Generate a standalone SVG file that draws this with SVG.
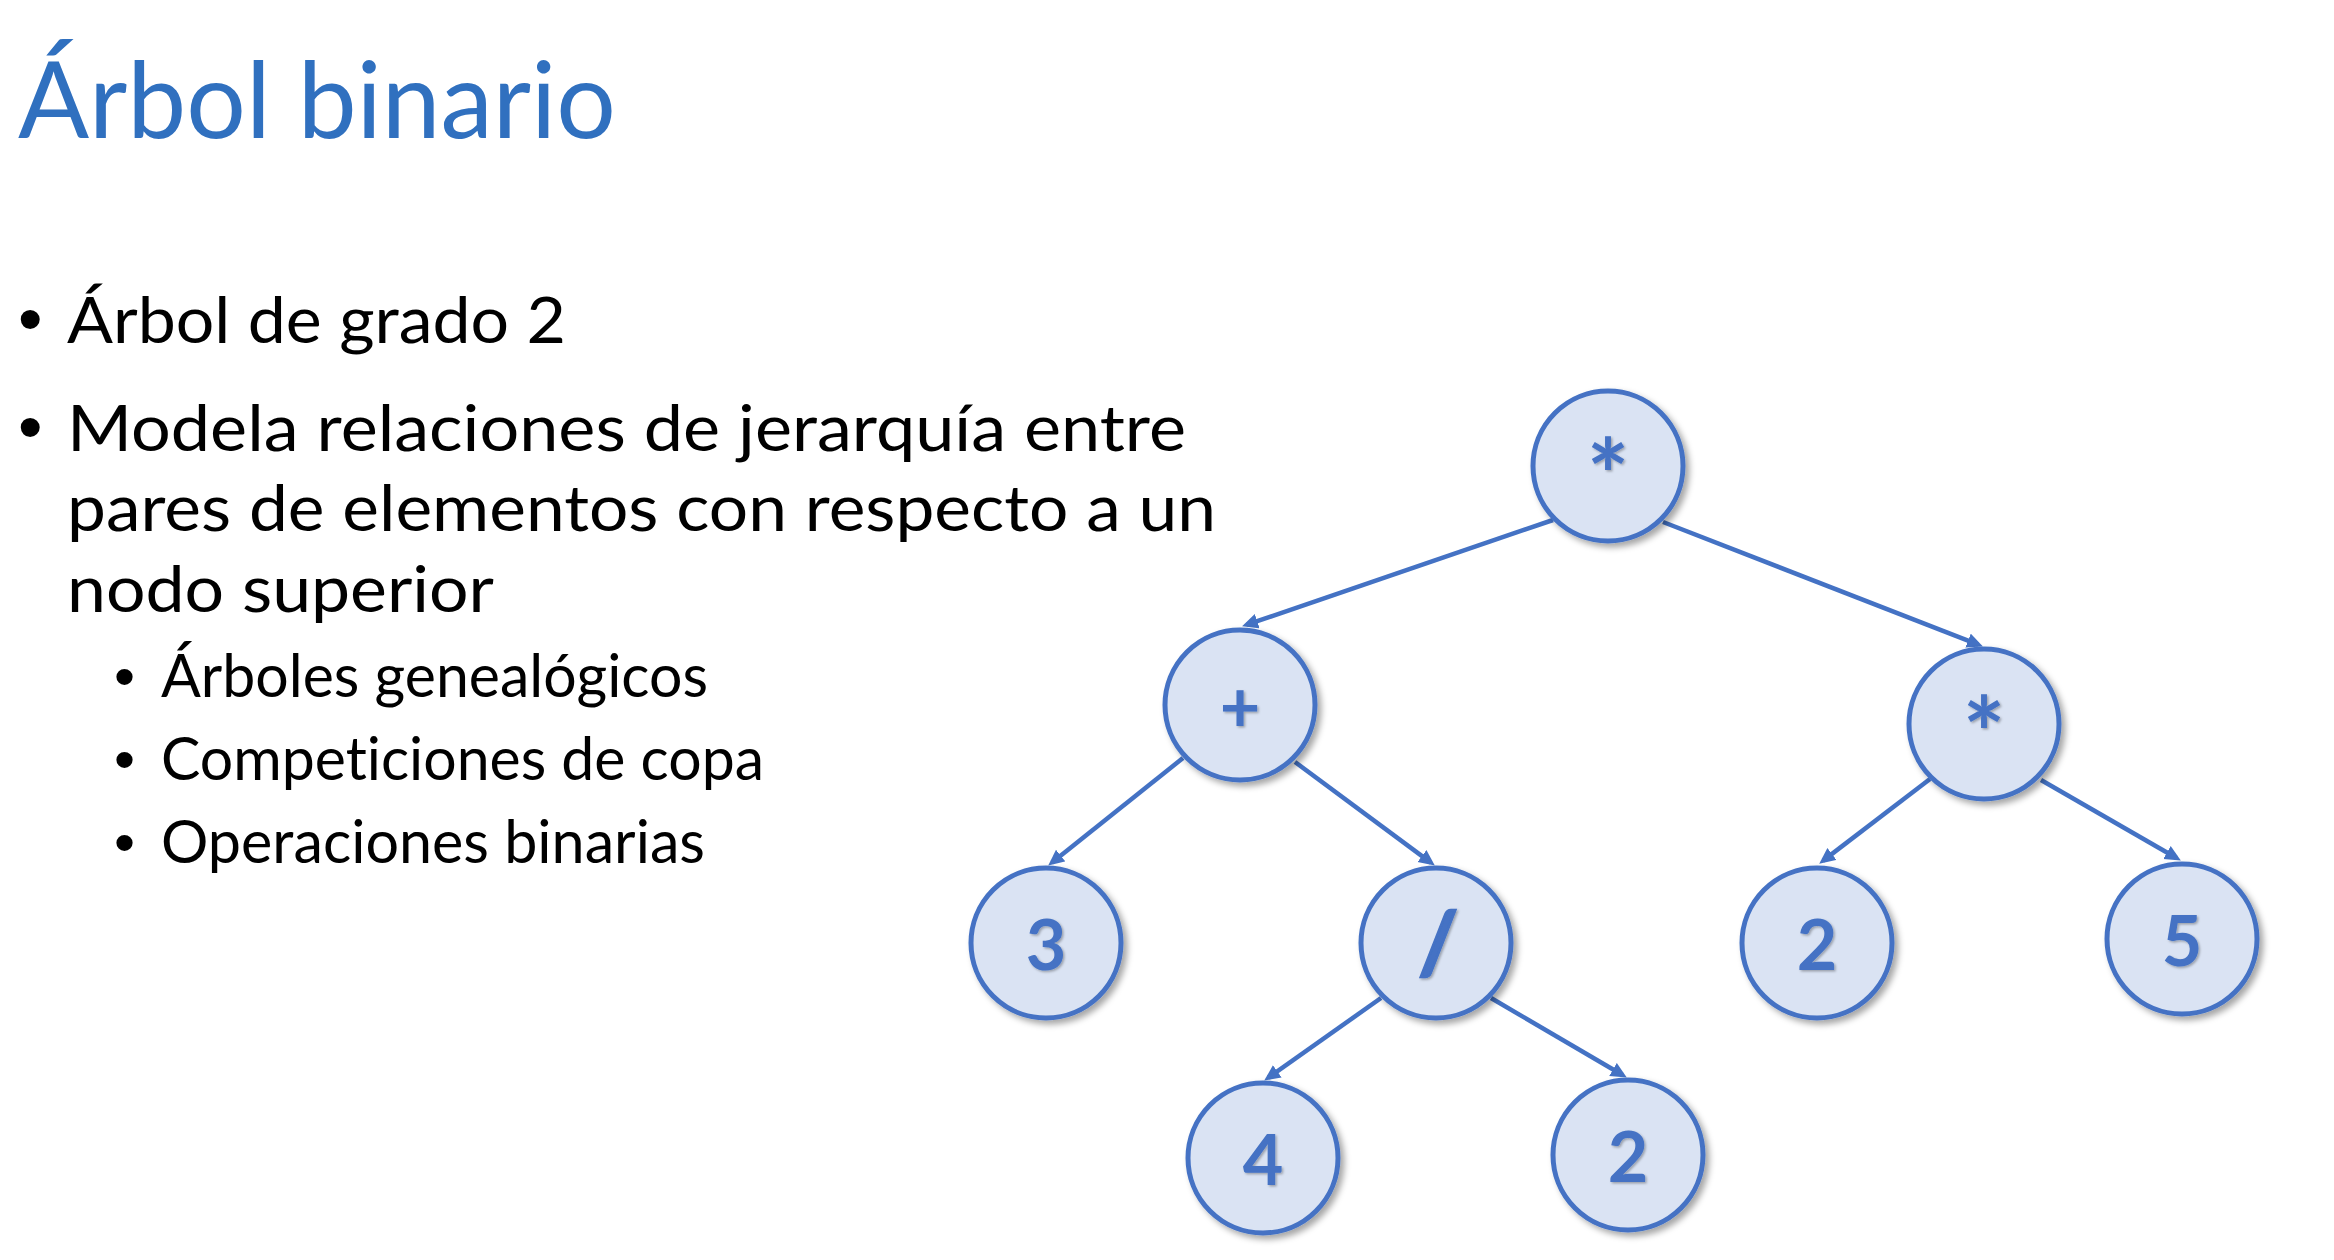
<svg xmlns="http://www.w3.org/2000/svg" width="2334" height="1260" viewBox="0 0 2334 1260">
  <defs>
    <style>
      text { font-variant-ligatures: none; }
      .title { font-family: "Lato", "Open Sans", sans-serif; font-size: 107px; fill: #3070BF; }
      .body { font-family: "Lato", "Open Sans", sans-serif; font-size: 63px; fill: #000000; }
      .sub { font-family: "Lato", "Open Sans", sans-serif; font-size: 60px; fill: #000000; }
      .bullet { font-family: "Liberation Sans", Arial, sans-serif; fill: #000000; }
      .node circle { fill: #DAE3F3; stroke: #4472C4; stroke-width: 5; filter: url(#shadow); }
      .node text { font-family: "Lato", "Open Sans", sans-serif; font-weight: 700; font-size: 70px; fill: #4472C4; text-anchor: middle; filter: url(#tshadow); }
      .node text.star { font-size: 100px; }
      .node text.slash { font-size: 85px; stroke: #4472C4; stroke-width: 2.5; }
      .edge { stroke: #4472C4; stroke-width: 4.5; fill: none; marker-end: url(#arrow); }
    </style>
    <filter id="shadow" x="-20%" y="-20%" width="150%" height="150%">
      <feDropShadow dx="4" dy="4" stdDeviation="3" flood-color="#000000" flood-opacity="0.35"/>
    </filter>
    <filter id="tshadow" x="-20%" y="-20%" width="150%" height="150%">
      <feDropShadow dx="1.5" dy="1.5" stdDeviation="1" flood-color="#000000" flood-opacity="0.3"/>
    </filter>
    <marker id="arrow" markerUnits="userSpaceOnUse" markerWidth="18" markerHeight="16" refX="11" refY="7.5" orient="auto">
      <path d="M0,0 L16,7.5 L0,15 z" fill="#4472C4"/>
    </marker>
  </defs>

  <rect width="2334" height="1260" fill="#FFFFFF"/>

  <g id="title">
    <text class="title" x="18" y="138" textLength="598" lengthAdjust="spacingAndGlyphs">Árbol binario</text>
  </g>

  <g id="bullets">
    <text class="bullet" x="18" y="343" font-size="70">•</text>
    <text class="body" x="67" y="343" textLength="499" lengthAdjust="spacingAndGlyphs">Árbol de grado 2</text>
    <text class="bullet" x="18" y="451" font-size="70">•</text>
    <text class="body" x="67" y="451" textLength="1119" lengthAdjust="spacingAndGlyphs">Modela relaciones de jerarquía entre</text>
    <text class="body" x="67" y="531" textLength="1149" lengthAdjust="spacingAndGlyphs">pares de elementos con respecto a un</text>
    <text class="body" x="67" y="612" textLength="427" lengthAdjust="spacingAndGlyphs">nodo superior</text>
    <text class="bullet" x="114" y="697" font-size="60">•</text>
    <text class="sub" x="161" y="697" textLength="547" lengthAdjust="spacingAndGlyphs">Árboles genealógicos</text>
    <text class="bullet" x="114" y="780" font-size="60">•</text>
    <text class="sub" x="161" y="780" textLength="603" lengthAdjust="spacingAndGlyphs">Competiciones de copa</text>
    <text class="bullet" x="114" y="863" font-size="60">•</text>
    <text class="sub" x="161" y="863" textLength="544" lengthAdjust="spacingAndGlyphs">Operaciones binarias</text>
  </g>

  <g id="connectors">
    <line class="edge" x1="1553" y1="520" x2="1246.8" y2="624.7"/>
    <line class="edge" x1="1663" y1="522" x2="1978.3" y2="644.6"/>
    <line class="edge" x1="1183" y1="758" x2="1052.1" y2="862.5"/>
    <line class="edge" x1="1295" y1="762" x2="1430.8" y2="862.6"/>
    <line class="edge" x1="1930" y1="779" x2="1823.2" y2="860.6"/>
    <line class="edge" x1="2041" y1="780" x2="2176.5" y2="858"/>
    <line class="edge" x1="1381" y1="998" x2="1268.3" y2="1077.7"/>
    <line class="edge" x1="1491" y1="998" x2="1622.5" y2="1075"/>
  </g>

  <g id="node-root" class="node">
    <circle cx="1608" cy="466" r="75"/>
    <text class="star" x="1608" y="512">*</text>
  </g>
  <g id="node-plus" class="node">
    <circle cx="1240" cy="705" r="75"/>
    <text x="1240" y="732">+</text>
  </g>
  <g id="node-mul" class="node">
    <circle cx="1984" cy="724" r="75"/>
    <text class="star" x="1984" y="770">*</text>
  </g>
  <g id="node-3" class="node">
    <circle cx="1046" cy="943" r="75"/>
    <text x="1046" y="970">3</text>
  </g>
  <g id="node-div" class="node">
    <circle cx="1436" cy="943" r="75"/>
    <text class="slash" x="1438" y="973">/</text>
  </g>
  <g id="node-2a" class="node">
    <circle cx="1817" cy="943" r="75"/>
    <text x="1817" y="970">2</text>
  </g>
  <g id="node-5" class="node">
    <circle cx="2182" cy="939" r="75"/>
    <text x="2182" y="966">5</text>
  </g>
  <g id="node-4" class="node">
    <circle cx="1263" cy="1158" r="75"/>
    <text x="1263" y="1185">4</text>
  </g>
  <g id="node-2b" class="node">
    <circle cx="1628" cy="1155" r="75"/>
    <text x="1628" y="1182">2</text>
  </g>
</svg>
